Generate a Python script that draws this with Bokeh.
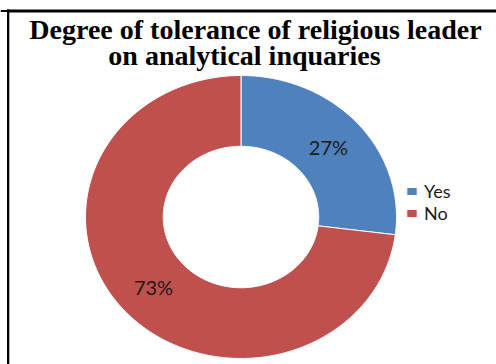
import numpy as np
from bokeh.plotting import figure
from bokeh.models import ColumnDataSource, Range1d, Label, Legend, LegendItem, Span
from bokeh.core.properties import value
from bokeh.embed import file_html
from bokeh.resources import INLINE

# ---- data ----
categories = ["Yes", "No"]
shares = [27, 73]
colors = ["#4F81BD", "#C0504D"]
pct_labels = ["27%", "73%"]
title_lines = ["Degree of tolerance of religious leader", "on analytical inquaries"]

# ---- layout (pixel-like coordinates, y downward) ----
W, H = 496, 364
cx, cy = 240.5, 216.5
rx_out, ry_out = 155.5, 141.5
hole = 0.5

p = figure(width=W, height=H, x_range=Range1d(0, W), y_range=Range1d(H, 0),
           x_axis_type=None, y_axis_type=None, toolbar_location=None,
           output_backend="svg", min_border=0, outline_line_color=None,
           background_fill_color="white", border_fill_color="white",
           title=None)
p.grid.visible = False

frac = np.array(shares, dtype=float) / np.sum(shares)
ends = np.pi / 2 - 2 * np.pi * np.cumsum(frac)
starts = np.concatenate([[np.pi / 2], ends[:-1]])

xs, ys, lx, ly = [], [], [], []
for s, e in zip(starts, ends):
    t = np.linspace(s, e, 200)
    ox = cx + rx_out * np.cos(t)
    oy = cy - ry_out * np.sin(t)
    ix = cx + hole * rx_out * np.cos(t[::-1])
    iy = cy - hole * ry_out * np.sin(t[::-1])
    xs.append(list(np.concatenate([ox, ix])))
    ys.append(list(np.concatenate([oy, iy])))
    m = (s + e) / 2
    r = (1 + hole) / 2
    lx.append(cx + r * rx_out * np.cos(m))
    ly.append(cy - r * ry_out * np.sin(m))

src = ColumnDataSource(dict(xs=xs, ys=ys, color=colors, cat=categories,
                            lx=lx, ly=ly, lab=pct_labels))

r_patch = p.patches("xs", "ys", source=src, fill_color="color",
                    line_color="white", line_width=1)

p.text("lx", "ly", text="lab", source=src, text_align="center",
       text_baseline="middle", text_font=value("Lato"),
       text_font_size="20px", text_color="#1a1a1a")

legend = Legend(items=[LegendItem(label=categories[i], renderers=[r_patch], index=i)
                       for i in range(len(categories))],
                location=(405, 140), padding=0, margin=0, spacing=0,
                glyph_width=13, glyph_height=10, label_height=20,
                label_standoff=6, label_text_font="Lato",
                label_text_font_size="18px", label_text_line_height=1.0,
                label_text_color="#1a1a1a",
                border_line_color=None, background_fill_alpha=0)
p.add_layout(legend)

for txt, tx, ty in [(title_lines[0], 255, 29), (title_lines[1], 244, 55)]:
    p.add_layout(Label(x=tx, y=ty, text=txt, text_align="center",
                       text_baseline="alphabetic", text_font="Liberation Serif",
                       text_font_style="bold", text_font_size="28px",
                       text_color="black", background_fill_color=None,
                       border_line_color=None))

# frame edges (left and top edge of the chart border), drawn on top of all
p.quad(left=[6.5, 6.5], right=[8.8, W + 5], top=[9.0, 9.0], bottom=[H + 5, 12.0],
       fill_color="black", line_color=None, level="overlay")
p.add_layout(Span(location=10.5, dimension="width", line_color="black",
                  line_width=2, level="overlay"))

open("out.html", "w").write(file_html(p, INLINE))
